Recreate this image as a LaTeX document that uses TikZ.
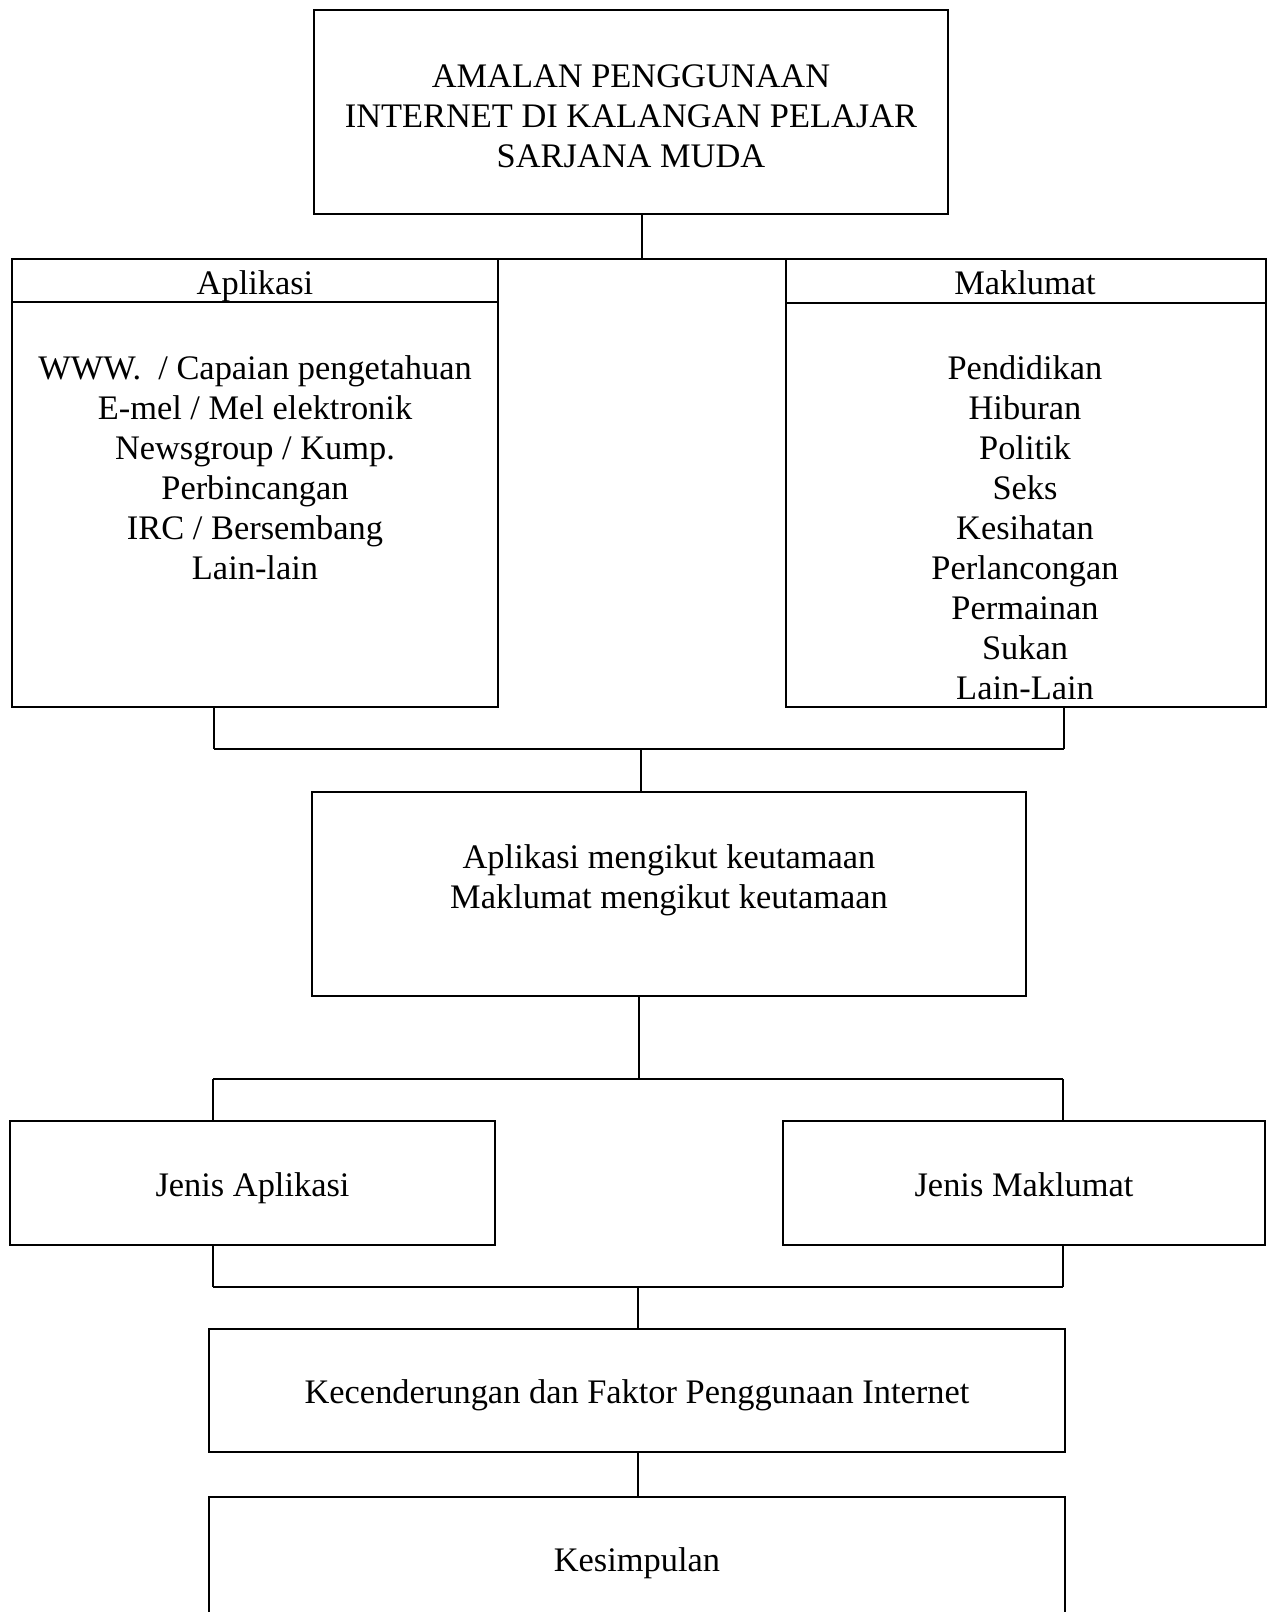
\documentclass[tikz,border=0pt]{standalone}
\usepackage{fontspec}
\setmainfont{Liberation Serif}
\begin{document}
\begin{tikzpicture}[x=0.5pt,y=-0.5pt,
  box/.style={draw, line width=1.2pt, inner sep=0pt, outer sep=0pt},
  conn/.style={line width=0.7pt},
  bus/.style={line width=0.9pt},
  lbl/.style={align=center, inner sep=0pt, font=\fontsize{17.2}{20}\selectfont}]
\useasboundingbox (0,0) rectangle (1269,1612);
\clip (0,0) rectangle (1269,1612);
% boxes
\node[box, minimum width=317pt, minimum height=102pt] (top) at (631,112) {};
\node[box, minimum width=243pt, minimum height=224pt] (apl) at (255,483) {};
\node[box, minimum width=240pt, minimum height=224pt] (mak) at (1026,483) {};
\node[box, minimum width=357pt, minimum height=102pt] (mid) at (669,894) {};
\node[box, minimum width=242.5pt, minimum height=62pt] (japl) at (252.5,1183) {};
\node[box, minimum width=241pt, minimum height=62pt] (jmak) at (1024,1183) {};
\node[box, minimum width=428pt, minimum height=61.5pt] (kec) at (637,1390.5) {};
\node[box, minimum width=428pt, minimum height=71.5pt] (kes) at (637,1568.5) {};
% header lines
\draw[line width=1.2pt] ([yshift=-21.5pt]apl.north west) -- ([yshift=-21.5pt]apl.north east);
\draw[line width=1.2pt] ([yshift=-22pt]mak.north west) -- ([yshift=-22pt]mak.north east);
% texts
\node[lbl] (topt) at (631,116) {AMALAN PENGGUNAAN\\INTERNET DI KALANGAN PELAJAR\\SARJANA MUDA};
\node[lbl] (aplh) at (255,286) {Aplikasi};
\node[lbl] (makh) at (1025,283) {Maklumat};
\node[lbl] (apli) at (255,467.5) {WWW.\ \ / Capaian pengetahuan\\E-mel / Mel elektronik\\Newsgroup / Kump.\\Perbincangan\\IRC / Bersembang\\Lain-lain};
\node[lbl] (maki) at (1025,527.5) {Pendidikan\\Hiburan\\Politik\\Seks\\Kesihatan\\Perlancongan\\Permainan\\Sukan\\Lain-Lain};
\node[lbl] (midt) at (669,880) {Aplikasi mengikut keutamaan\\Maklumat mengikut keutamaan};
\node[lbl] (japlt) at (252.5,1188) {Jenis Aplikasi};
\node[lbl] (jmakt) at (1024,1185) {Jenis Maklumat};
\node[lbl] (kect) at (637,1395.5) {Kecenderungan dan Faktor Penggunaan Internet};
\node[lbl] (kest) at (637,1563) {Kesimpulan};
% connectors
\coordinate (b1) at (642,259);
\draw[conn] (top.south -| b1) -- (b1);
\draw[line width=1.2pt] (apl.north east) -- (mak.north west);
\coordinate (c1l) at (214,749);
\coordinate (c1r) at (1064,749);
\coordinate (c1m) at (641,749);
\draw[conn] (apl.south -| c1l) -- (c1l);
\draw[conn] (mak.south -| c1r) -- (c1r);
\draw[bus] (c1l) -- (c1r);
\draw[conn] (c1m) -- (mid.north -| c1m);
\coordinate (c2l) at (213,1079);
\coordinate (c2r) at (1063,1079);
\coordinate (c2m) at (639,1079);
\draw[conn] (mid.south -| c2m) -- (c2m);
\draw[bus] (c2l) -- (c2r);
\draw[conn] (c2l) -- (japl.north -| c2l);
\draw[conn] (c2r) -- (jmak.north -| c2r);
\coordinate (c3l) at (213,1287);
\coordinate (c3r) at (1063,1287);
\coordinate (c3m) at (638,1287);
\draw[conn] (japl.south -| c3l) -- (c3l);
\draw[conn] (jmak.south -| c3r) -- (c3r);
\draw[bus] (c3l) -- (c3r);
\draw[conn] (c3m) -- (kec.north -| c3m);
\draw[conn] (kec.south -| c3m) -- (kes.north -| c3m);
\end{tikzpicture}
\end{document}
